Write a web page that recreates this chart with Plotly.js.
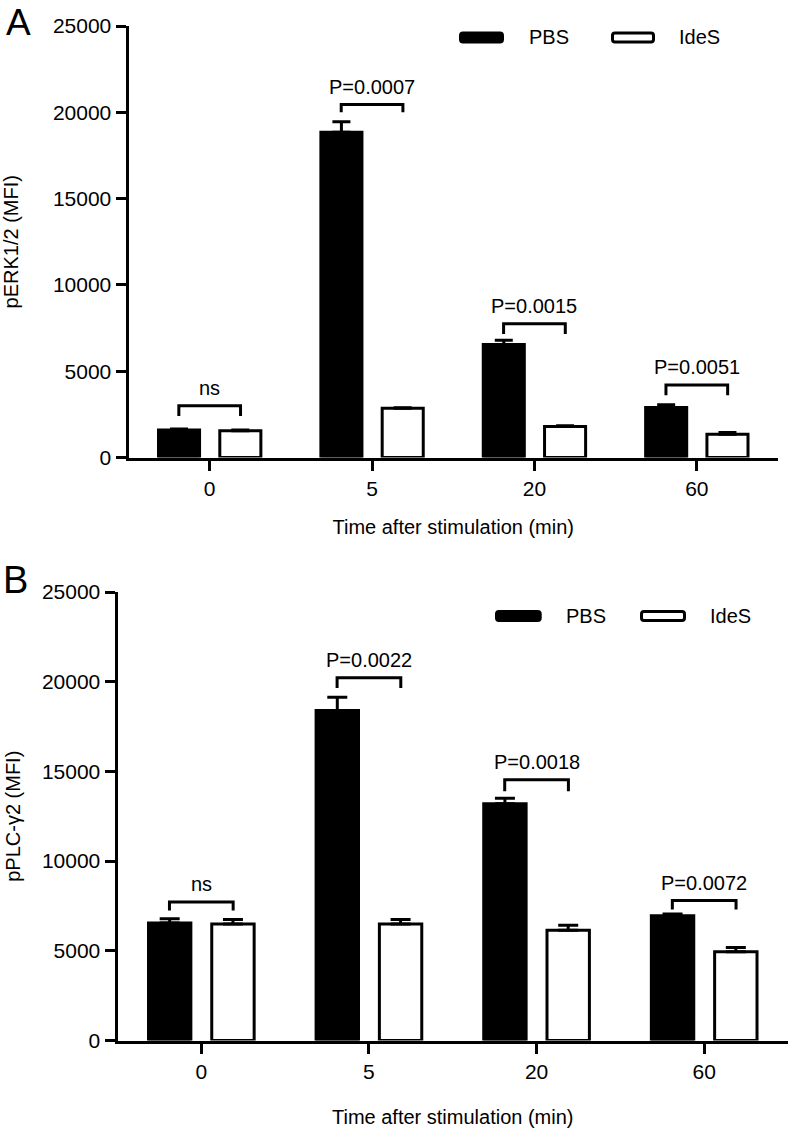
<!DOCTYPE html>
<html>
<head>
<meta charset="utf-8">
<script src="https://cdn.plot.ly/plotly-3.0.1.min.js"></script>
<style>html,body{margin:0;padding:0;background:#fff;}</style>
</head>
<body>
<div id="chart" style="width:793px;height:1129px;"></div>
<script>
// ---------------- data ----------------
const categories = ['0', '5', '20', '60'];
const seriesNames = ['PBS', 'IdeS'];

// Panel A : pERK1/2 (MFI)
const erkPBS      = [1600, 18850, 6550, 2900];
const erkPBSerr   = [50, 600, 250, 150];
const erkIdeS     = [1550, 2850, 1800, 1350];
const erkIdeSerr  = [40, 30, 40, 100];
const erkLabels   = ['ns', 'P=0.0007', 'P=0.0015', 'P=0.0051'];
const erkBrTop    = [3000, 20450, 7750, 4200];
const erkBrLeg    = [2400, 20000, 7160, 3600];

// Panel B : pPLC-γ2 (MFI)
const plcPBS      = [6550, 18400, 13200, 6950];
const plcPBSerr   = [230, 740, 300, 100];
const plcIdeS     = [6500, 6500, 6150, 4950];
const plcIdeSerr  = [240, 240, 280, 230];
const plcLabels   = ['ns', 'P=0.0022', 'P=0.0018', 'P=0.0072'];
const plcBrTop    = [7720, 20220, 14530, 7800];
const plcBrLeg    = [7240, 19650, 13900, 7300];

const yTicks = [0, 5000, 10000, 15000, 20000, 25000];

// ---------------- helpers ----------------
const W = 793, H = 1129;
const FONT = 'Arial, "Liberation Sans", Helvetica, sans-serif';
const px = x => x / W;
const py = y => 1 - y / H;
const zeros = n => new Array(n).fill(0);
const HALF = 0.19; // bracket half-span in category units (bar centre)

function barTraces(pbs, pbsErr, ides, idesErr, xa, ya, capW) {
  return [
    {
      type: 'bar', name: seriesNames[0], x: categories, y: pbs,
      xaxis: xa, yaxis: ya, showlegend: false,
      marker: {color: '#000', line: {color: '#000', width: 3}},
      error_y: {type: 'data', symmetric: false, array: pbsErr, arrayminus: zeros(pbs.length),
                color: '#000', thickness: 3, width: capW},
      hoverinfo: 'skip'
    },
    {
      type: 'bar', name: seriesNames[1], x: categories, y: ides,
      xaxis: xa, yaxis: ya, showlegend: false,
      marker: {color: '#fff', line: {color: '#000', width: 3}},
      error_y: {type: 'data', symmetric: false, array: idesErr, arrayminus: zeros(ides.length),
                color: '#000', thickness: 3, width: capW},
      hoverinfo: 'skip'
    }
  ];
}

function brackets(tops, legs, xref, yref) {
  return tops.map((t, i) => ({
    type: 'path', xref: xref, yref: yref,
    path: `M ${i - HALF},${legs[i]} L ${i - HALF},${t} L ${i + HALF},${t} L ${i + HALF},${legs[i]}`,
    line: {color: '#000', width: 3}
  }));
}

function bracketLabels(labels, tops, xref, yref) {
  return labels.map((txt, i) => ({
    xref: xref, yref: yref, x: i, y: tops[i], text: txt, showarrow: false,
    xanchor: 'center', yanchor: 'bottom', yshift: 5,
    font: {family: FONT, size: 20, color: '#000'}
  }));
}

function roundRect(x0, y0, x1, y1, r) {
  // pixel coords -> paper path with rounded corners
  const X = v => px(v).toFixed(5), Y = v => py(v).toFixed(5);
  return `M ${X(x0 + r)},${Y(y0)} L ${X(x1 - r)},${Y(y0)} Q ${X(x1)},${Y(y0)} ${X(x1)},${Y(y0 + r)} ` +
         `L ${X(x1)},${Y(y1 - r)} Q ${X(x1)},${Y(y1)} ${X(x1 - r)},${Y(y1)} ` +
         `L ${X(x0 + r)},${Y(y1)} Q ${X(x0)},${Y(y1)} ${X(x0)},${Y(y1 - r)} ` +
         `L ${X(x0)},${Y(y0 + r)} Q ${X(x0)},${Y(y0)} ${X(x0 + r)},${Y(y0)} Z`;
}

function legendShapes(blackX, whiteX, yc) {
  return [
    {type: 'path', xref: 'paper', yref: 'paper', path: roundRect(blackX[0], yc - 4.5, blackX[1], yc + 4.5, 2.5),
     fillcolor: '#000', line: {color: '#000', width: 3}},
    {type: 'path', xref: 'paper', yref: 'paper', path: roundRect(whiteX[0], yc - 4.5, whiteX[1], yc + 4.5, 2.5),
     fillcolor: '#fff', line: {color: '#000', width: 3}}
  ];
}

function legendTexts(pbsX, idesX, yc) {
  return [
    {xref: 'paper', yref: 'paper', x: px(pbsX), y: py(yc), text: seriesNames[0], showarrow: false,
     xanchor: 'left', yanchor: 'middle', font: {family: FONT, size: 20, color: '#000'}},
    {xref: 'paper', yref: 'paper', x: px(idesX), y: py(yc), text: seriesNames[1], showarrow: false,
     xanchor: 'left', yanchor: 'middle', font: {family: FONT, size: 20, color: '#000'}}
  ];
}

const axisCommon = {
  showline: true, linecolor: '#000', linewidth: 3,
  ticks: 'outside', ticklen: 10, tickwidth: 3, tickcolor: '#000',
  tickfont: {family: FONT, size: 21, color: '#000'},
  showgrid: false, zeroline: false, fixedrange: true
};

const xA = Object.assign({}, axisCommon, {
  type: 'category', categoryorder: 'array', categoryarray: categories,
  range: [-0.5, 3.5], domain: [px(128.5), px(778)], anchor: 'y',
  title: {text: 'Time after stimulation (min)', font: {family: FONT, size: 20, color: '#000'}, standoff: 22}
});
const yA = Object.assign({}, axisCommon, {
  range: [0, 25000], tickvals: yTicks, tickformat: 'd',
  domain: [py(457.5), py(26)], anchor: 'x',
  title: {text: 'pERK1/2 (MFI)', font: {family: FONT, size: 20, color: '#000'}, standoff: 32}
});
const xB = Object.assign({}, axisCommon, {
  type: 'category', categoryorder: 'array', categoryarray: categories,
  range: [-0.5, 3.5], domain: [px(117.5), px(788)], anchor: 'y2',
  title: {text: 'Time after stimulation (min)', font: {family: FONT, size: 20, color: '#000'}, standoff: 29}
});
const yB = Object.assign({}, axisCommon, {
  range: [0, 25000], tickvals: yTicks, tickformat: 'd',
  domain: [py(1040.5), py(592)], anchor: 'x2',
  title: {text: 'pPLC-γ2 (MFI)', font: {family: FONT, size: 20, color: '#000'}, standoff: 16}
});

const data = [].concat(
  barTraces(erkPBS, erkPBSerr, erkIdeS, erkIdeSerr, 'x', 'y', 9),
  barTraces(plcPBS, plcPBSerr, plcIdeS, plcIdeSerr, 'x2', 'y2', 10)
);

const shapes = [].concat(
  brackets(erkBrTop, erkBrLeg, 'x', 'y'),
  brackets(plcBrTop, plcBrLeg, 'x2', 'y2'),
  legendShapes([460.5, 502.5], [612.5, 653.5], 37.5),
  legendShapes([496.5, 540.2], [641.5, 684.5], 616)
);

const annotations = [].concat(
  bracketLabels(erkLabels, erkBrTop, 'x', 'y'),
  bracketLabels(plcLabels, plcBrTop, 'x2', 'y2'),
  legendTexts(527, 677, 37.5),
  legendTexts(564, 708, 616),
  [
    {xref: 'paper', yref: 'paper', x: px(4), y: 1, text: 'A', showarrow: false,
     xanchor: 'left', yanchor: 'top', font: {family: FONT, size: 37, color: '#000'}},
    {xref: 'paper', yref: 'paper', x: px(1), y: py(580), text: 'B', showarrow: false,
     xanchor: 'left', yanchor: 'middle', font: {family: FONT, size: 38, color: '#000'}}
  ]
);

const layout = {
  width: W, height: H,
  margin: {l: 0, r: 0, t: 0, b: 0, pad: 0},
  paper_bgcolor: '#fff', plot_bgcolor: '#fff',
  barmode: 'group', bargap: 0.245, bargroupgap: 0.33,
  showlegend: false,
  font: {family: FONT, size: 20, color: '#000'},
  xaxis: xA, yaxis: yA, xaxis2: xB, yaxis2: yB,
  shapes: shapes, annotations: annotations
};

Plotly.newPlot('chart', data, layout, {staticPlot: true, displayModeBar: false});
</script>
</body>
</html>
